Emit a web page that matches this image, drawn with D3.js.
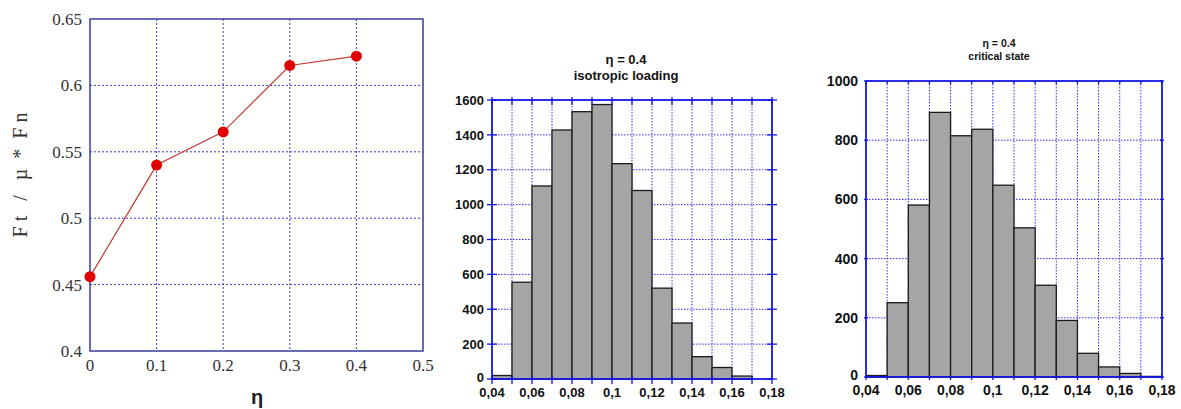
<!DOCTYPE html>
<html>
<head>
<meta charset="utf-8">
<script src="https://cdn.jsdelivr.net/npm/d3@7"></script>
<style>
  body { margin: 0; background: #fff; }
  svg { display: block; }
</style>
</head>
<body>
<svg id="chart" width="1181" height="409"></svg>
<script>
// left panel: friction ratio vs eta
const etaValues = [0, 0.1, 0.2, 0.3, 0.4];
const ratioValues = [0.456, 0.540, 0.565, 0.615, 0.622];
const etaTicks = [0, 0.1, 0.2, 0.3, 0.4, 0.5];
const ratioTicks = [0.4, 0.45, 0.5, 0.55, 0.6, 0.65];

// histogram bins (left edges, width 0.01)
const binStarts = [0.04, 0.05, 0.06, 0.07, 0.08, 0.09, 0.10, 0.11, 0.12, 0.13, 0.14, 0.15, 0.16, 0.17];
const isoCounts = [20, 555, 1107, 1428, 1533, 1574, 1235, 1081, 521, 321, 128, 66, 17, 0];
const critCounts = [5, 251, 581, 894, 815, 837, 648, 504, 310, 191, 80, 34, 12, 2];
const histXTicks = [0.04, 0.06, 0.08, 0.1, 0.12, 0.14, 0.16, 0.18];
const isoYTicks = [0, 200, 400, 600, 800, 1000, 1200, 1400, 1600];
const critYTicks = [0, 200, 400, 600, 800, 1000];

const svg = d3.select('#chart');
const fmtComma = d => String(+d.toFixed(2)).replace('.', ',');

// ---------- panel 1 ----------
const p1 = { left: 90, right: 423, top: 19, bottom: 351 };
const x1 = d3.scaleLinear().domain([0, 0.5]).range([p1.left, p1.right]);
const y1 = d3.scaleLinear().domain([0.4, 0.65]).range([p1.bottom, p1.top]);
const g1 = svg.append('g');

g1.append('rect')
  .attr('x', p1.left).attr('y', p1.top)
  .attr('width', p1.right - p1.left).attr('height', p1.bottom - p1.top)
  .attr('fill', '#fffffd');

g1.selectAll('.vgrid').data(etaTicks.slice(1, -1)).enter().append('line')
  .attr('x1', d => x1(d)).attr('x2', d => x1(d))
  .attr('y1', p1.top).attr('y2', p1.bottom)
  .attr('stroke', '#3b3bc8').attr('stroke-width', 1).attr('stroke-dasharray', '2,2');
g1.selectAll('.hgrid').data(ratioTicks.slice(1, -1)).enter().append('line')
  .attr('y1', d => y1(d)).attr('y2', d => y1(d))
  .attr('x1', p1.left).attr('x2', p1.right)
  .attr('stroke', '#3b3bc8').attr('stroke-width', 1).attr('stroke-dasharray', '2,2');

g1.append('rect')
  .attr('x', p1.left).attr('y', p1.top)
  .attr('width', p1.right - p1.left).attr('height', p1.bottom - p1.top)
  .attr('fill', 'none').attr('stroke', '#3a3aa0').attr('stroke-width', 1.5);

g1.selectAll('.ylab').data(ratioTicks).enter().append('text')
  .attr('x', p1.left - 8).attr('y', d => y1(d) + 6)
  .attr('text-anchor', 'end')
  .attr('font-family', 'Liberation Serif, serif').attr('font-size', 17).attr('fill', '#333')
  .text(d => String(d));
g1.selectAll('.xlab').data(etaTicks).enter().append('text')
  .attr('x', d => x1(d)).attr('y', 371)
  .attr('text-anchor', 'middle')
  .attr('font-family', 'Liberation Serif, serif').attr('font-size', 17).attr('fill', '#333')
  .text(d => String(d));

g1.append('text')
  .attr('transform', 'translate(27,175) rotate(-90)')
  .attr('text-anchor', 'middle')
  .attr('font-family', 'Liberation Serif, serif').attr('font-size', 20).attr('fill', '#333')
  .attr('xml:space', 'preserve')
  .text('F t   /   µ  *  F n');
g1.append('text')
  .attr('x', 257).attr('y', 404)
  .attr('text-anchor', 'middle')
  .attr('font-family', 'Liberation Sans, sans-serif').attr('font-size', 20).attr('font-weight', 'bold').attr('fill', '#222')
  .text('η');

const pts = etaValues.map((e, i) => [e, ratioValues[i]]);
g1.append('path').datum(pts)
  .attr('d', d3.line().x(d => x1(d[0])).y(d => y1(d[1])))
  .attr('fill', 'none').attr('stroke', '#c23a3a').attr('stroke-width', 1.2);
g1.selectAll('.dot').data(pts).enter().append('circle')
  .attr('cx', d => x1(d[0])).attr('cy', d => y1(d[1])).attr('r', 5.5)
  .attr('fill', '#e00000');

// ---------- histogram panels ----------
function drawHist(opt) {
  const g = svg.append('g');
  const x = d3.scaleLinear().domain([0.04, 0.18]).range([opt.left, opt.right]);
  const y = d3.scaleLinear().domain([0, opt.ymax]).range([opt.bottom, opt.top]);
  const gridX = d3.range(0.05, 0.175, 0.01);
  const gridY = opt.yTicks.slice(1, -1);

  g.selectAll('.vg').data(gridX).enter().append('line')
    .attr('x1', d => x(d)).attr('x2', d => x(d))
    .attr('y1', opt.top).attr('y2', opt.bottom)
    .attr('stroke', '#2f2fff').attr('stroke-width', 1).attr('stroke-dasharray', '1.5,1.5');
  g.selectAll('.hg').data(gridY).enter().append('line')
    .attr('y1', d => y(d)).attr('y2', d => y(d))
    .attr('x1', opt.left).attr('x2', opt.right)
    .attr('stroke', '#2f2fff').attr('stroke-width', 1).attr('stroke-dasharray', '1.5,1.5');

  g.selectAll('.bar').data(opt.counts).enter().append('rect')
    .attr('x', (d, i) => x(binStarts[i]))
    .attr('width', (d, i) => x(binStarts[i] + 0.01) - x(binStarts[i]))
    .attr('y', d => y(d))
    .attr('height', d => opt.bottom - y(d))
    .attr('fill', '#a5a5a5').attr('stroke', '#1a1a1a').attr('stroke-width', 1.3);

  // frame
  g.append('rect')
    .attr('x', opt.left).attr('y', opt.top)
    .attr('width', opt.right - opt.left).attr('height', opt.bottom - opt.top)
    .attr('fill', 'none').attr('stroke', '#1414e6').attr('stroke-width', 1.8);

  // ticks
  const tx = d3.range(0.04, 0.185, 0.01);
  [opt.top, opt.bottom].forEach(yy => {
    g.selectAll(null).data(tx).enter().append('line')
      .attr('x1', d => x(d)).attr('x2', d => x(d))
      .attr('y1', yy - opt.tickOut).attr('y2', yy + opt.tickIn)
      .attr('stroke', '#1414e6').attr('stroke-width', 1.3);
  });
  [opt.left, opt.right].forEach(xx => {
    g.selectAll(null).data(opt.yTicks).enter().append('line')
      .attr('y1', d => y(d)).attr('y2', d => y(d))
      .attr('x1', xx - opt.tickOut - 2).attr('x2', xx + opt.tickOut + 2)
      .attr('stroke', '#1414e6').attr('stroke-width', 1.3);
  });

  g.selectAll('.yl').data(opt.yTicks).enter().append('text')
    .attr('x', opt.left - opt.yLabGap)
    .attr('y', d => y(d) + opt.yFont * 0.36 - (d === 0 ? 2 : 0))
    .attr('text-anchor', 'end')
    .attr('font-family', 'Liberation Sans, Arial, sans-serif').attr('font-weight', 'bold')
    .attr('font-size', opt.yFont).attr('fill', '#111')
    .text(d => d);
  g.selectAll('.xl').data(histXTicks).enter().append('text')
    .attr('x', d => x(d)).attr('y', opt.xLabY)
    .attr('text-anchor', 'middle')
    .attr('font-family', 'Liberation Sans, Arial, sans-serif').attr('font-weight', 'bold')
    .attr('font-size', opt.xFont).attr('fill', '#111')
    .text(fmtComma);

  opt.title.forEach((t, i) => {
    g.append('text')
      .attr('x', opt.titleX).attr('y', opt.titleY + i * opt.titleStep)
      .attr('text-anchor', 'middle')
      .attr('font-family', 'Liberation Sans, Arial, sans-serif').attr('font-weight', 'bold')
      .attr('font-size', opt.titleFont).attr('fill', '#111')
      .text(t);
  });
}

drawHist({
  left: 492, right: 772, top: 100, bottom: 379, ymax: 1600,
  counts: isoCounts, yTicks: isoYTicks,
  tickIn: 5, tickOut: 3, yLabGap: 8, yFont: 13, xFont: 13, xLabY: 397,
  title: ['η = 0.4', 'isotropic loading'], titleX: 626, titleY: 64, titleStep: 16, titleFont: 13
});

drawHist({
  left: 866, right: 1162, top: 81, bottom: 377, ymax: 1000,
  counts: critCounts, yTicks: critYTicks,
  tickIn: 3, tickOut: 0, yLabGap: 8, yFont: 14, xFont: 14, xLabY: 395,
  title: ['η = 0.4', 'critical state'], titleX: 999, titleY: 47, titleStep: 13, titleFont: 10.5
});
</script>
</body>
</html>
